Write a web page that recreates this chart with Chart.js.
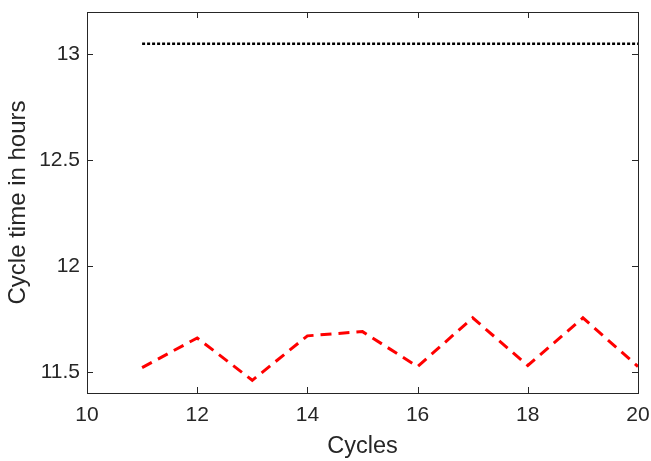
<!DOCTYPE html>
<html>
<head>
<meta charset="utf-8">
<script src="https://cdn.jsdelivr.net/npm/chart.js@4"></script>
<style>
  html, body { margin: 0; padding: 0; background: #fff; }
  #wrap { width: 651px; height: 461px; }
</style>
</head>
<body>
<div id="wrap"><canvas id="cycleChart" width="651" height="461"></canvas></div>
<script>
// values
const cycles = [11, 12, 13, 14, 15, 16, 17, 18, 19, 20];
const measuredTimes = [11.52, 11.66, 11.46, 11.67, 11.69, 11.525, 11.755, 11.53, 11.755, 11.525];
const boundTimes = [13.05, 13.05, 13.05, 13.05, 13.05, 13.05, 13.05, 13.05, 13.05, 13.05];
const xTicks = [10, 12, 14, 16, 18, 20];
const yTicks = [11.5, 12, 12.5, 13];

const axisColor = '#262626';
const fontFamily = '"Liberation Sans", Arial, Helvetica, sans-serif';

// matlab-style box with inward ticks on all four sides
const boxPlugin = {
    id: 'boxTicks',
    afterDraw(chart) {
        const { ctx, chartArea: a, scales } = chart;
        ctx.save();
        ctx.strokeStyle = axisColor;
        ctx.lineWidth = 1;
        ctx.strokeRect(Math.round(a.left) + 0.5, Math.round(a.top) + 0.5,
            Math.round(a.right - a.left), Math.round(a.bottom - a.top));
        const len = 6;
        ctx.beginPath();
        xTicks.forEach(v => {
            const px = Math.round(scales.x.getPixelForValue(v)) + 0.5;
            ctx.moveTo(px, a.bottom); ctx.lineTo(px, a.bottom - len);
            ctx.moveTo(px, a.top); ctx.lineTo(px, a.top + len);
        });
        yTicks.forEach(v => {
            const py = Math.round(scales.y.getPixelForValue(v)) + 0.5;
            ctx.moveTo(a.left, py); ctx.lineTo(a.left + len, py);
            ctx.moveTo(a.right, py); ctx.lineTo(a.right - len, py);
        });
        ctx.stroke();
        ctx.restore();
    }
};

// keep the label overhang from shrinking the plot box
function noEdgePadding(s) {
    s.paddingLeft = 0;
    s.paddingRight = 0;
    s.paddingTop = 0;
    s.paddingBottom = 0;
}

const ctx = document.getElementById('cycleChart').getContext('2d');
const cycleChart = new Chart(ctx, {
    type: 'line',
    data: {
        labels: cycles,
        datasets: [{
            data: boundTimes,
            borderColor: '#000000',
            borderWidth: 2.5,
            borderDash: [3, 2],
            pointRadius: 0,
            fill: false
        }, {
            data: measuredTimes,
            borderColor: '#ff0000',
            borderWidth: 3,
            borderDash: [11, 7],
            pointRadius: 0,
            fill: false
        }]
    },
    options: {
        responsive: false,
        animation: false,
        layout: { padding: { top: 12, right: 13, left: 0, bottom: 0 } },
        plugins: {
            legend: { display: false },
            tooltip: { enabled: false }
        },
        scales: {
            x: {
                type: 'linear',
                min: 10,
                max: 20,
                afterBuildTicks: s => { s.ticks = xTicks.map(v => ({ value: v })); },
                afterFit: s => { s.height = 68; noEdgePadding(s); },
                grid: { display: false, drawTicks: false },
                border: { display: false },
                ticks: {
                    color: axisColor,
                    padding: 10,
                    maxRotation: 0,
                    font: { family: fontFamily, size: 21 }
                },
                title: {
                    display: true,
                    text: 'Cycles',
                    color: axisColor,
                    padding: { top: 0, bottom: 0 },
                    font: { family: fontFamily, size: 23.5 }
                }
            },
            y: {
                type: 'linear',
                min: 11.4,
                max: 13.2,
                afterBuildTicks: s => { s.ticks = yTicks.map(v => ({ value: v })); },
                afterFit: s => { s.width = 87; noEdgePadding(s); },
                grid: { display: false, drawTicks: false },
                border: { display: false },
                ticks: {
                    color: axisColor,
                    padding: 7,
                    font: { family: fontFamily, size: 21 },
                    callback: v => String(v)
                },
                title: {
                    display: true,
                    text: 'Cycle time in hours',
                    color: axisColor,
                    padding: { top: 4, bottom: 0 },
                    font: { family: fontFamily, size: 24 }
                }
            }
        }
    },
    plugins: [boxPlugin]
});
</script>
</body>
</html>
